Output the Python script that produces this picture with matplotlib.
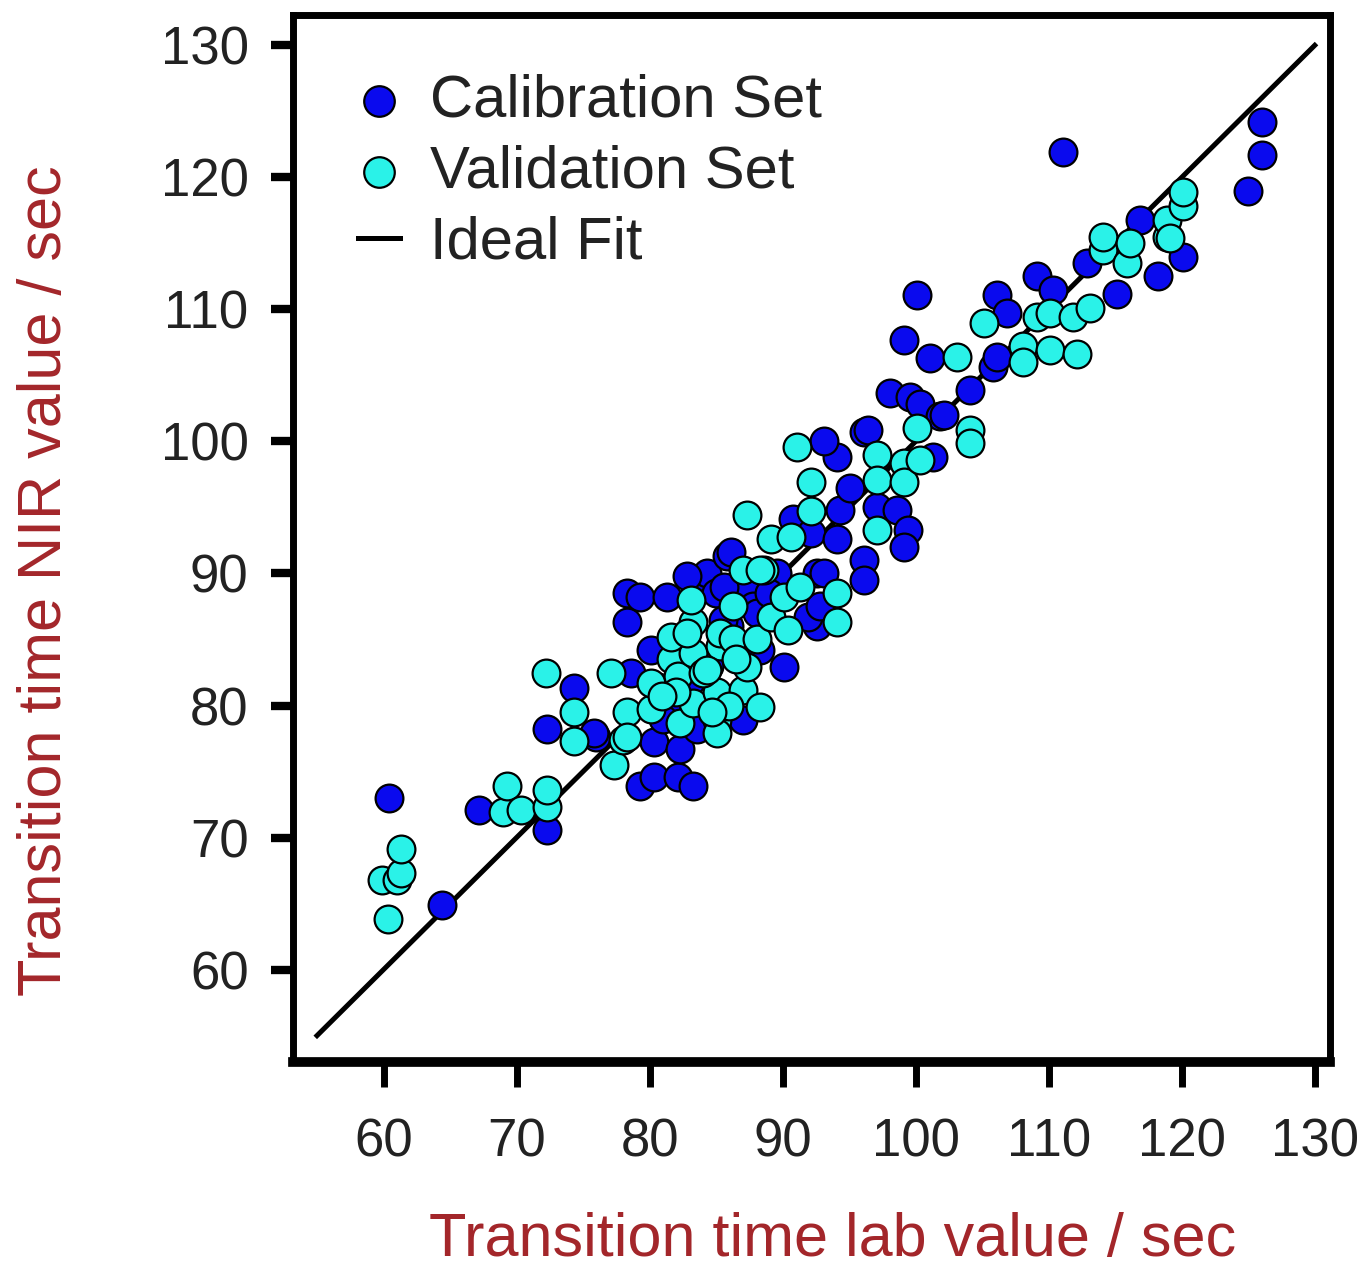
import matplotlib.pyplot as plt

# Calibration set (lab value, NIR value)
cal_x = [60.4, 64.4, 67.2, 72.3, 72.3, 74.3, 76.0, 75.8, 79.3, 80.3, 82.1, 83.3,
         80.3, 82.3, 83.6, 87.0, 78.6, 80.1, 78.3, 78.3, 79.3, 81.3, 83.8, 83.3,
         84.3, 85.8, 86.1, 87.3, 87.8, 88.1, 88.3, 89.6, 89.6, 90.1, 90.8, 92.1,
         92.6, 93.1, 92.6, 91.9, 92.8, 94.1, 94.3, 94.1, 93.1, 95.1, 96.1, 96.4,
         96.1, 96.1, 97.1, 98.6, 99.4, 99.1, 98.1, 99.6, 100.3, 99.1, 100.1, 101.1,
         101.3, 101.8, 102.1, 104.1, 105.8, 106.1, 106.1, 106.9, 109.1, 110.3, 111.1,
         112.9, 115.1, 116.9, 118.2, 120.1, 125.0, 126.0, 126.0,
         81.5, 84.5, 86.0, 85.0, 82.8, 85.6, 81.0, 83.0, 85.5, 89.0]
cal_y = [73.0, 64.9, 72.1, 70.6, 78.2, 81.3, 77.6, 77.9, 73.9, 74.6, 74.6, 73.9,
         77.2, 76.7, 78.2, 78.9, 82.5, 84.2, 86.3, 88.5, 88.2, 88.2, 89.5, 89.5,
         90.0, 91.3, 91.6, 89.0, 87.5, 87.0, 84.2, 89.8, 90.0, 82.9, 94.1, 93.1,
         90.0, 90.0, 86.0, 86.7, 87.5, 92.6, 94.8, 98.8, 100.0, 96.5, 100.7, 100.9,
         91.0, 89.5, 95.0, 94.8, 93.3, 92.0, 103.7, 103.4, 102.8, 107.7, 111.1, 106.3,
         98.8, 101.9, 102.0, 103.9, 105.6, 106.4, 111.1, 109.7, 112.5, 111.5, 121.9,
         113.5, 111.2, 116.8, 112.5, 114.0, 119.0, 121.7, 124.2,
         80.5, 83.0, 86.0, 88.5, 89.8, 89.0, 79.0, 81.8, 86.5, 88.5]

# Validation set (lab value, NIR value)
val_x = [60.3, 59.9, 61.0, 61.3, 61.3, 69.0, 69.3, 70.3, 72.3, 72.3, 72.2, 74.3,
         74.3, 77.1, 77.3, 78.0, 78.3, 78.3, 80.1, 80.6, 80.1, 81.6, 82.1, 82.3,
         83.3, 83.3, 85.3, 85.1, 85.1, 85.1, 87.0, 87.3, 88.3, 81.6, 83.3, 83.1,
         85.3, 86.3, 86.3, 87.0, 88.6, 88.1, 89.1, 90.4, 90.1, 91.3, 94.1, 94.1,
         87.3, 89.1, 90.6, 88.3, 92.1, 92.1, 91.1, 97.1, 97.1, 97.1, 99.1, 99.1,
         100.3, 100.1, 103.1, 104.1, 104.1, 105.1, 108.1, 108.1, 109.1, 110.1, 110.1,
         111.8, 112.1, 113.1, 114.1, 114.1, 115.9, 116.1, 118.9, 118.9, 119.1, 120.1,
         120.1, 84.0, 86.0, 82.0, 84.3, 82.8, 84.7, 86.5, 80.9]
val_y = [63.8, 66.8, 66.8, 67.3, 69.1, 71.9, 73.9, 72.1, 72.3, 73.6, 82.5, 79.5,
         77.3, 82.5, 75.5, 77.4, 79.5, 77.6, 79.7, 81.4, 81.7, 83.5, 82.2, 78.7,
         80.2, 84.0, 84.5, 81.0, 78.9, 77.9, 81.2, 82.9, 79.9, 85.2, 86.3, 88.0,
         85.5, 87.5, 85.0, 90.3, 90.3, 85.0, 86.7, 85.7, 88.2, 89.0, 88.5, 86.3,
         94.4, 92.6, 92.8, 90.3, 94.7, 96.9, 99.6, 99.0, 97.1, 93.3, 98.4, 96.9,
         98.6, 101.0, 106.4, 100.9, 99.9, 109.0, 107.2, 106.0, 109.4, 109.7, 106.9,
         109.4, 106.6, 110.1, 114.5, 115.5, 113.5, 115.0, 115.5, 116.8, 115.4, 117.8,
         118.9, 82.5, 80.0, 81.0, 82.7, 85.5, 79.5, 83.5, 80.7]

fit = [55, 130]

red = '#a3262a'
plt.rcParams['font.family'] = ['Liberation Sans', 'DejaVu Sans']

fig = plt.figure(figsize=(13.65, 12.78), dpi=100)
ax = fig.add_axes([0.2147, 0.169, 0.7597, 0.8193])

ax.plot(fit, fit, color='black', lw=3.6, zorder=1, label='Ideal Fit')
ax.scatter(cal_x, cal_y, s=400, color='#0a0aee', edgecolors='black',
           linewidths=1.6, zorder=2, label='Calibration Set')
ax.scatter(val_x, val_y, s=400, color='#2af2e8', edgecolors='black',
           linewidths=1.6, zorder=3, label='Validation Set')

ax.set_xlim(53.2, 131.15)
ax.set_ylim(53.0, 132.3)
ax.set_xticks(range(60, 131, 10))
ax.set_yticks(range(60, 131, 10))

for s in ax.spines.values():
    s.set_linewidth(5)
ax.spines['bottom'].set_linewidth(7)
ax.tick_params(axis='x', length=18, width=5, pad=22, labelsize=38, colors='black')
ax.tick_params(axis='y', length=16, width=6, pad=16, labelsize=38, colors='black')
ax.tick_params(labelcolor='#222222')

ax.set_xlabel('Transition time lab value / sec', fontsize=44, color=red, va='center')
ax.xaxis.set_label_coords(0.52, -0.17)
ax.set_ylabel('Transition time NIR value / sec', fontsize=44, color=red, va='center')
ax.yaxis.set_label_coords(-0.239, 0.46)

h, l = ax.get_legend_handles_labels()
order = [1, 2, 0]
ax.legend([h[i] for i in order], [l[i] for i in order], loc='upper left',
          bbox_to_anchor=(0.063, 0.944), frameon=False, fontsize=43,
          handlelength=0.7, handletextpad=0.5, labelspacing=0.27,
          borderpad=0, borderaxespad=0, labelcolor='#222222', markerscale=1.1)

fig.savefig('out.png', dpi=100)
